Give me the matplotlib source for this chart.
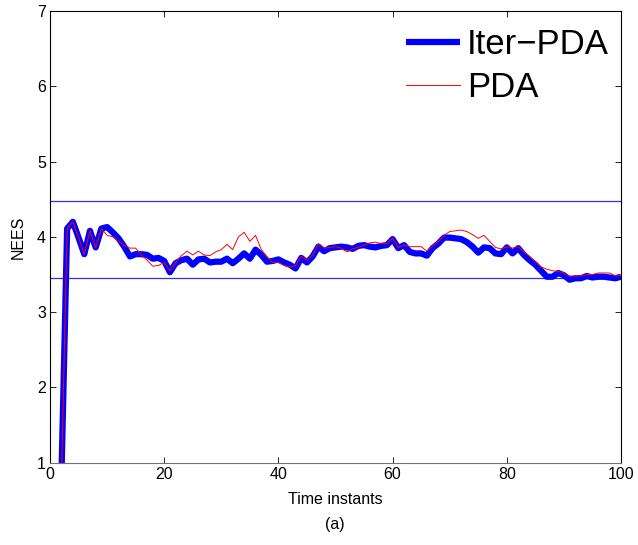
import numpy as np
import matplotlib
matplotlib.use("Agg")
import matplotlib.pyplot as plt

plt.rcParams['font.family'] = ['Liberation Sans', 'DejaVu Sans']

time = np.arange(1, 101)

iter_pda = [0.3, 0.8, 4.11, 4.20, 3.99, 3.77, 4.08, 3.86, 4.11, 4.13,
            4.06, 3.98, 3.87, 3.74, 3.77, 3.77, 3.76, 3.71, 3.72, 3.68,
            3.53, 3.65, 3.69, 3.71, 3.63, 3.70, 3.71, 3.66, 3.67, 3.67,
            3.71, 3.65, 3.71, 3.78, 3.71, 3.83, 3.76, 3.67, 3.68, 3.70,
            3.66, 3.63, 3.58, 3.72, 3.66, 3.74, 3.87, 3.81, 3.85, 3.86,
            3.87, 3.86, 3.84, 3.88, 3.89, 3.87, 3.86, 3.88, 3.89, 3.97,
            3.85, 3.89, 3.80, 3.78, 3.78, 3.75, 3.85, 3.91, 3.99, 3.99,
            3.98, 3.97, 3.93, 3.87, 3.79, 3.86, 3.85, 3.78, 3.77, 3.86,
            3.78, 3.85, 3.76, 3.69, 3.63, 3.55, 3.47, 3.47, 3.52, 3.49,
            3.43, 3.45, 3.45, 3.48, 3.46, 3.47, 3.47, 3.46, 3.45, 3.47]

pda = [0.3, 0.8, 4.11, 4.20, 3.99, 3.77, 4.08, 3.86, 4.11, 4.02,
       4.00, 3.94, 3.89, 3.85, 3.85, 3.76, 3.69, 3.61, 3.62, 3.66,
       3.55, 3.66, 3.75, 3.81, 3.76, 3.81, 3.76, 3.75, 3.80, 3.83,
       3.90, 3.83, 4.00, 4.06, 3.94, 4.02, 3.83, 3.74, 3.66, 3.66,
       3.62, 3.60, 3.62, 3.74, 3.69, 3.76, 3.91, 3.85, 3.86, 3.87,
       3.85, 3.80, 3.84, 3.86, 3.89, 3.92, 3.93, 3.91, 3.91, 3.98,
       3.86, 3.89, 3.87, 3.87, 3.87, 3.81, 3.88, 3.94, 4.02, 4.07,
       4.08, 4.09, 4.07, 4.03, 3.98, 4.02, 3.94, 3.86, 3.84, 3.87,
       3.85, 3.87, 3.80, 3.74, 3.67, 3.60, 3.57, 3.55, 3.54, 3.52,
       3.48, 3.48, 3.48, 3.50, 3.50, 3.52, 3.52, 3.52, 3.48, 3.49]

bounds = [4.47, 3.46]

fig = plt.figure(figsize=(6.38, 5.45), dpi=100)
ax = fig.add_axes([50/638, 1 - 462.7/545, 571/638, 451.7/545])

for b in bounds:
    ax.axhline(b, color='#3030e0', lw=0.9, zorder=1)

ax.plot(time, iter_pda, color='#0000ff', lw=4.5, label='Iter\u2212PDA',
        solid_joinstyle='round', solid_capstyle='butt', zorder=2)
ax.plot(time, pda, color='#ff0000', lw=0.7, label='PDA', zorder=3)

ax.set_xlim(0, 100)
ax.set_ylim(1, 7)
ax.set_xticks([0, 20, 40, 60, 80, 100])
ax.set_yticks([1, 2, 3, 4, 5, 6, 7])
ax.tick_params(direction='in', top=True, right=True, labelsize=11.5,
               length=4, width=0.6, pad=3)
for s in ['left', 'top', 'right']:
    ax.spines[s].set_linewidth(0.8)
    ax.spines[s].set_color('black')
ax.spines['bottom'].set_linewidth(0.8)
ax.spines['bottom'].set_color('0.45')

ax.set_xlabel('Time instants', fontsize=11.5, labelpad=7)
ax.set_ylabel('NEES', fontsize=11.5, labelpad=8)

leg = ax.legend(loc='upper left', bbox_to_anchor=(406/638, 1 - 28/545),
                bbox_transform=fig.transFigure, frameon=False,
                fontsize=25, handlelength=1.55, handletextpad=0.2,
                labelspacing=0.3, borderpad=0, borderaxespad=0)

fig.text(335/638, 1 - 525/545, '(a)', ha='center', va='center', fontsize=11.5)

fig.savefig('out.png', dpi=100)
